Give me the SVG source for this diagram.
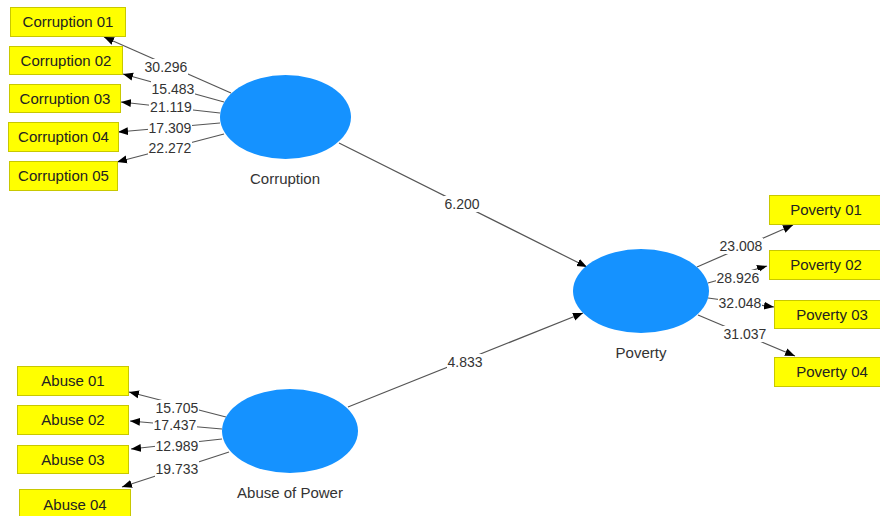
<svg xmlns="http://www.w3.org/2000/svg" width="880" height="516" viewBox="0 0 880 516">
<style>
.box{fill:#ffff00;stroke:#c8c800;stroke-width:1}
.bt{font-family:"Liberation Sans",Arial,sans-serif;font-size:15px;fill:#222;text-anchor:middle}
.lv{fill:#1592ff}
.lt{font-family:"Liberation Sans",Arial,sans-serif;font-size:15px;fill:#333;text-anchor:middle}
.c{stroke:#555;stroke-width:1.2;fill:none;marker-end:url(#ah)}
.bg{fill:#fff}
.n{font-family:"Liberation Sans",Arial,sans-serif;font-size:14px;fill:#333;text-anchor:middle}
</style>
<defs>
<marker id="ah" markerUnits="userSpaceOnUse" markerWidth="10" markerHeight="10" viewBox="0 0 10 10" refX="10" refY="5" orient="auto">
<path d="M0,1 L10,5 L0,9 z" fill="#000"/>
</marker>
</defs>
<rect width="880" height="516" fill="#fff"/>
<g id="connectors">
<line class="c" x1="231" y1="93" x2="104" y2="37"/>
<line class="c" x1="224" y1="102" x2="123" y2="74"/>
<line class="c" x1="220" y1="113" x2="121" y2="102"/>
<line class="c" x1="220" y1="123" x2="118" y2="132"/>
<line class="c" x1="224" y1="134" x2="117" y2="162"/>
<line class="c" x1="226" y1="417" x2="129" y2="392"/>
<line class="c" x1="222" y1="429" x2="130" y2="421"/>
<line class="c" x1="222" y1="439" x2="131" y2="449"/>
<line class="c" x1="229" y1="452" x2="122" y2="487"/>
<line class="c" x1="697" y1="267" x2="793" y2="225"/>
<line class="c" x1="708" y1="283" x2="767" y2="266"/>
<line class="c" x1="708" y1="298" x2="774" y2="307"/>
<line class="c" x1="698" y1="315" x2="795" y2="356"/>
<line class="c" x1="339" y1="143" x2="587" y2="267"/>
<line class="c" x1="348" y1="407" x2="583" y2="313"/>
<rect class="bg" x="144" y="59" width="44" height="16"/>
<rect class="bg" x="151" y="81" width="44" height="16"/>
<rect class="bg" x="149" y="99" width="44" height="16"/>
<rect class="bg" x="148" y="120" width="44" height="16"/>
<rect class="bg" x="148" y="140" width="44" height="16"/>
<rect class="bg" x="155" y="400" width="44" height="16"/>
<rect class="bg" x="153" y="417" width="44" height="16"/>
<rect class="bg" x="155" y="438" width="44" height="16"/>
<rect class="bg" x="155" y="461" width="44" height="16"/>
<rect class="bg" x="719" y="238" width="44" height="16"/>
<rect class="bg" x="716" y="270" width="44" height="16"/>
<rect class="bg" x="718" y="295" width="44" height="16"/>
<rect class="bg" x="723" y="326" width="44" height="16"/>
<rect class="bg" x="444" y="196" width="36" height="16"/>
<rect class="bg" x="447" y="354" width="36" height="16"/>
<text class="n" x="166" y="72">30.296</text>
<text class="n" x="173" y="94">15.483</text>
<text class="n" x="171" y="112">21.119</text>
<text class="n" x="170" y="133">17.309</text>
<text class="n" x="170" y="153">22.272</text>
<text class="n" x="177" y="413">15.705</text>
<text class="n" x="175" y="430">17.437</text>
<text class="n" x="177" y="451">12.989</text>
<text class="n" x="177" y="474">19.733</text>
<text class="n" x="741" y="251">23.008</text>
<text class="n" x="738" y="283">28.926</text>
<text class="n" x="740" y="308">32.048</text>
<text class="n" x="745" y="339">31.037</text>
<text class="n" x="462" y="209">6.200</text>
<text class="n" x="465" y="367">4.833</text>
</g>
<g id="corruption"><ellipse class="lv" cx="285.5" cy="117" rx="65.5" ry="42"/><text class="lt" x="285" y="184">Corruption</text></g>
<g id="abuse"><ellipse class="lv" cx="290" cy="431" rx="68" ry="42"/><text class="lt" x="290" y="498">Abuse of Power</text></g>
<g id="poverty"><ellipse class="lv" cx="641" cy="291" rx="68" ry="42"/><text class="lt" x="641" y="358">Poverty</text></g>
<g id="c01"><rect class="box" x="10.5" y="7.5" width="115" height="29"/><text class="bt" x="68" y="27">Corruption 01</text></g>
<g id="c02"><rect class="box" x="9.5" y="46.5" width="113" height="28"/><text class="bt" x="66" y="66">Corruption 02</text></g>
<g id="c03"><rect class="box" x="9.5" y="84.5" width="111" height="28"/><text class="bt" x="65" y="104">Corruption 03</text></g>
<g id="c04"><rect class="box" x="8.5" y="122.5" width="110" height="29"/><text class="bt" x="63.5" y="142">Corruption 04</text></g>
<g id="c05"><rect class="box" x="9.5" y="161.5" width="108" height="29"/><text class="bt" x="63.5" y="181">Corruption 05</text></g>
<g id="a01"><rect class="box" x="17.5" y="366.5" width="111" height="29"/><text class="bt" x="73" y="386">Abuse 01</text></g>
<g id="a02"><rect class="box" x="17.5" y="405.5" width="111" height="29"/><text class="bt" x="73" y="425">Abuse 02</text></g>
<g id="a03"><rect class="box" x="17.5" y="445.5" width="111" height="28"/><text class="bt" x="73" y="465">Abuse 03</text></g>
<g id="a04"><rect class="box" x="19.5" y="489.5" width="111" height="30"/><text class="bt" x="75" y="510">Abuse 04</text></g>
<g id="p01"><rect class="box" x="769.5" y="195.5" width="112" height="29"/><text class="bt" x="826" y="215">Poverty 01</text></g>
<g id="p02"><rect class="box" x="769.5" y="250.5" width="112" height="29"/><text class="bt" x="826" y="270">Poverty 02</text></g>
<g id="p03"><rect class="box" x="774.5" y="300.5" width="112" height="28"/><text class="bt" x="832" y="320">Poverty 03</text></g>
<g id="p04"><rect class="box" x="774.5" y="357.5" width="112" height="29"/><text class="bt" x="832" y="377">Poverty 04</text></g>
</svg>
